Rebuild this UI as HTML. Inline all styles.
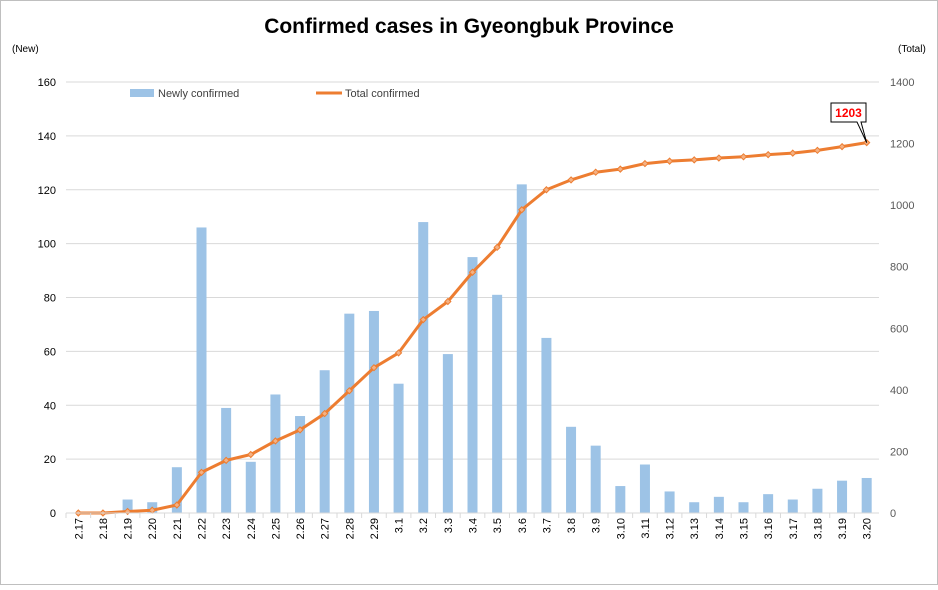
<!DOCTYPE html>
<html><head><meta charset="utf-8"><style>
body{margin:0;background:#fff;font-family:"Liberation Sans",sans-serif}
svg text{font-family:"Liberation Sans",sans-serif}
</style></head><body>
<svg id="c" width="938" height="585" xmlns="http://www.w3.org/2000/svg">
<rect x="0.5" y="0.5" width="937" height="584" fill="#fff" stroke="#bfbfbf"/>
<text x="469" y="33" text-anchor="middle" font-size="21" font-weight="bold">Confirmed cases in Gyeongbuk Province</text>
<text x="12" y="52" font-size="10">(New)</text>
<text x="898" y="52" font-size="10">(Total)</text>
<g id="grid"></g><g id="bars"></g><g id="line"></g><g id="axes"></g>
<g>
<rect x="130" y="89" width="24" height="8" fill="#9DC3E6"/>
<text x="158" y="97" font-size="11" fill="#404040">Newly confirmed</text>
<line x1="316" y1="93" x2="342" y2="93" stroke="#ED7D31" stroke-width="3"/>
<text x="345" y="97" font-size="11" fill="#404040">Total confirmed</text>
</g>
<g id="callout"></g>
</svg>
<script>
const categories=["2.17","2.18","2.19","2.20","2.21","2.22","2.23","2.24","2.25","2.26","2.27","2.28","2.29","3.1","3.2","3.3","3.4","3.5","3.6","3.7","3.8","3.9","3.10","3.11","3.12","3.13","3.14","3.15","3.16","3.17","3.18","3.19","3.20"];
const newCases=[0,0,5,4,17,106,39,19,44,36,53,74,75,48,108,59,95,81,122,65,32,25,10,18,8,4,6,4,7,5,9,12,13];
const totalCases=[0,0,5,9,26,132,171,190,234,270,323,397,472,520,628,687,782,863,985,1050,1082,1107,1117,1135,1143,1147,1153,1157,1164,1169,1178,1190,1203];
const leftTicks=[0,20,40,60,80,100,120,140,160];
const rightTicks=[0,200,400,600,800,1000,1200,1400];
const NS="http://www.w3.org/2000/svg";
const L=66,R=879,T=82,B=513,step=(R-L)/categories.length;
const xc=i=>L+step*(i+0.5);
const yL=v=>B-(v/160)*(B-T);
const yR=v=>B-(v/1400)*(B-T);
function mk(p,tag,a){const e=document.createElementNS(NS,tag);for(const k in a)e.setAttribute(k,a[k]);document.getElementById(p).appendChild(e);return e;}
leftTicks.forEach(v=>{
 if(v>0){const g=mk('grid','line',{x1:L,x2:R,y1:yL(v),y2:yL(v),stroke:'#d9d9d9'});
 
 }
 const t=mk('axes','text',{x:56,y:yL(v)+4,'text-anchor':'end','font-size':11});t.textContent=v;
 
 
});
rightTicks.forEach(v=>{
 const t=mk('axes','text',{x:890,y:yR(v)+4,'font-size':11,fill:'#595959'});t.textContent=v;
 
 
});
const ax=mk('axes','line',{x1:L,x2:R,y1:B,y2:B,stroke:'#d9d9d9'});


categories.forEach((c,i)=>{
 const tk=mk('axes','line',{x1:L+step*i,x2:L+step*i,y1:B,y2:B+5,stroke:'#d9d9d9'});
 
 
 const x=xc(i),y=518;
 const t=mk('axes','text',{x:x+4,y:y,'font-size':11,'text-anchor':'end',transform:`rotate(-90 ${x+4} ${y})`});
 t.textContent=c;
 
 
 if(newCases[i]>0){
  const b=mk('bars','rect',{x:x-5,y:yL(newCases[i]),width:10,height:B-yL(newCases[i]),fill:'#9DC3E6'});
  
  
 }
});
const pts=totalCases.map((v,i)=>xc(i)+','+yR(v)).join(' ');
const pl=mk('line','polyline',{points:pts,fill:'none',stroke:'#ED7D31','stroke-width':3,'stroke-linejoin':'round'});


totalCases.forEach((v,i)=>{
 const x=xc(i),y=yR(v);
 const m=mk('line','polygon',{points:`${x},${y-3} ${x+3},${y} ${x},${y+3} ${x-3},${y}`,fill:'#F4B183',stroke:'#ED7D31','stroke-width':1});
 
 
});
const li=totalCases.length-1,px=xc(li),py=yR(totalCases[li]);
mk('callout','polygon',{points:`831,103 866,103 866,122 861,122 ${px},${py} 857,122 831,122`,fill:'#fff',stroke:'#000','stroke-width':1});
const ct=mk('callout','text',{x:848.5,y:117,'text-anchor':'middle','font-size':12,'font-weight':'bold',fill:'#ff0000'});
ct.textContent=totalCases[li];


</script>
</body></html>
